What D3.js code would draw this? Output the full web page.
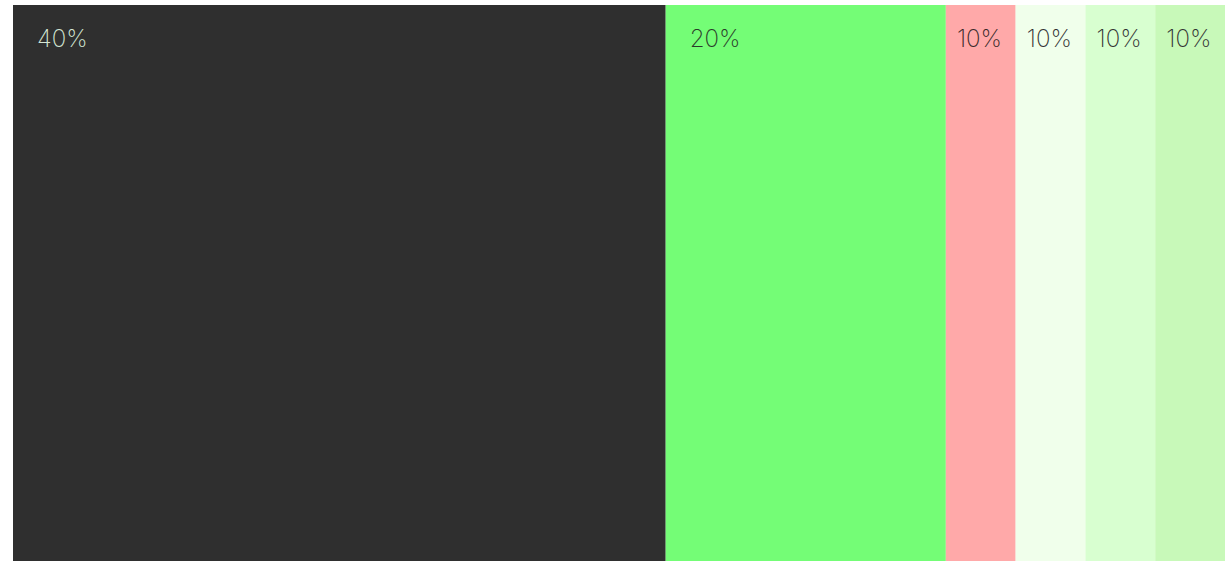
<!DOCTYPE html>
<html>
<head>
<meta charset="utf-8">
<script src="https://cdn.jsdelivr.net/npm/d3@7"></script>
<style>
  html, body { margin:0; padding:0; background:#fff; }
</style>
</head>
<body>
<div id="chart"></div>
<script>
// --- data -----------------------------------------------------------
const segments = ["a", "b", "c", "d", "e", "f"];
const shares   = [40, 20, 10, 10, 10, 10];
const labels   = ["40%", "20%", "10%", "10%", "10%", "10%"];
const colours  = ["#2f2f2f", "#74fd76", "#ffa9a9", "#f0ffeb", "#d8ffd0", "#c8f9b9"];
const textCols = ["#d4e6d4", "#2a3a2a", "#3a2a2a", "#333333", "#333333", "#333333"];

const W = 1225, H = 561;
const margin = { top:5, right:0, bottom:0, left:13 };

const svg = d3.select("#chart").append("svg")
  .attr("width", W).attr("height", H)
  .attr("font-family", "Inter, 'Noto Sans', sans-serif");

const innerW = W - margin.left - margin.right;

// visual weight of each share (the design does not scale linearly)
const weight = d3.scaleLinear()
  .domain([10, 20, 40])
  .range([0.0577, 0.2316, 0.5396]);

const widths = shares.map(s => weight(s) * innerW);
const starts = d3.cumsum([0, ...widths]);

const x = d3.scaleLinear()
  .domain([0, d3.sum(widths)])
  .range([margin.left, W - margin.right]);

const rows = segments.map((k, i) => ({
  key: k, share: shares[i], label: labels[i],
  fill: colours[i], text: textCols[i],
  x0: starts[i], x1: starts[i] + widths[i]
}));

const g = svg.append("g");

g.selectAll("rect")
  .data(rows)
  .join("rect")
    .attr("x", d => x(d.x0))
    .attr("y", margin.top)
    .attr("width", d => x(d.x1) - x(d.x0))
    .attr("height", H - margin.top - margin.bottom)
    .attr("fill", d => d.fill);

g.selectAll("text")
  .data(rows)
  .join("text")
    .attr("x", d => x(d.x0) + Math.min(24, (x(d.x1) - x(d.x0)) * 0.16))
    .attr("y", margin.top + 42)
    .attr("font-size", 24)
    .attr("font-weight", 200)
    .attr("fill", d => d.text)
    .text(d => d.label);
</script>
</body>
</html>
